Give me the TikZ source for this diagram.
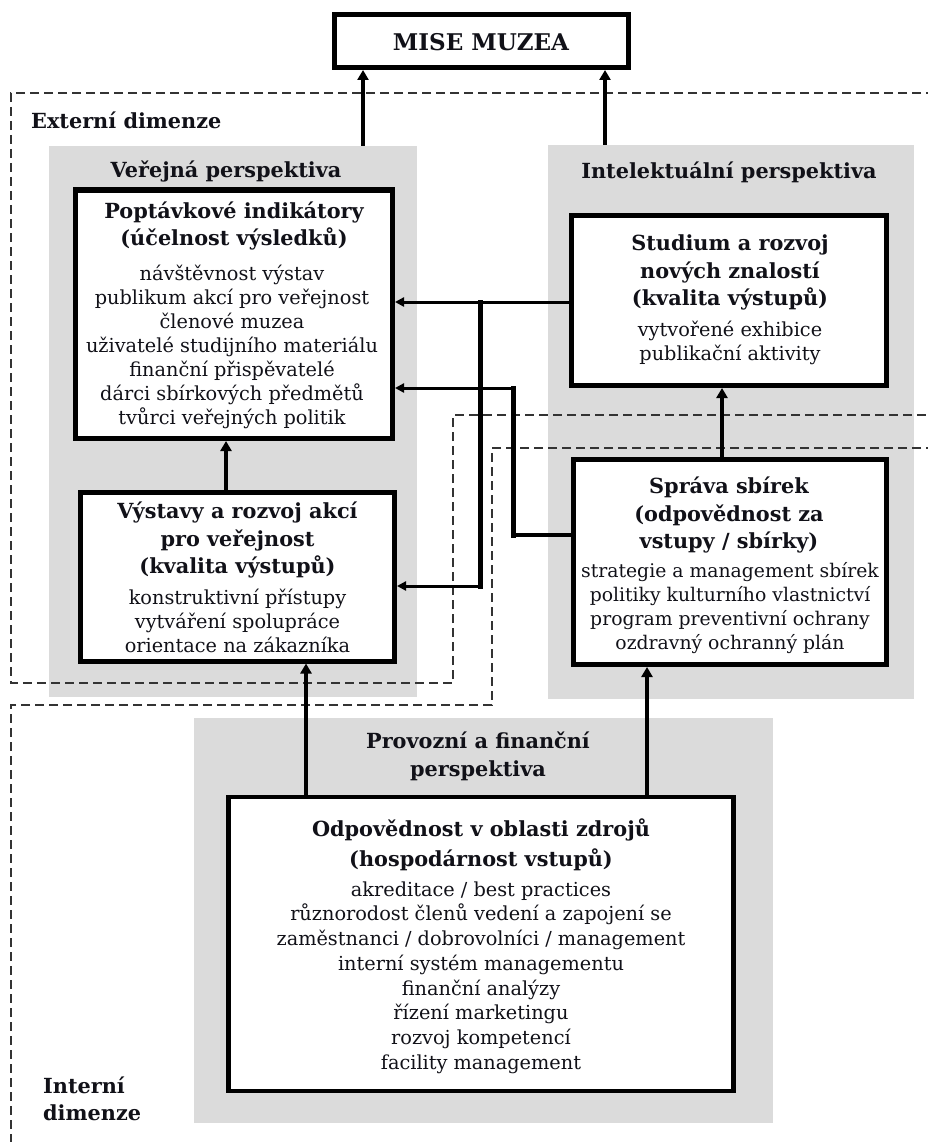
\documentclass[tikz,border=0pt]{standalone}
\usepackage{fontspec}
\setmainfont{DejaVu Serif}
\usetikzlibrary{arrows.meta,fit}
\definecolor{panel}{RGB}{219,219,219}
\definecolor{ink}{RGB}{17,17,24}
\begin{document}
\begin{tikzpicture}[x=1pt,y=-1pt,
  panelbox/.style={fill=panel, draw=none, inner sep=0pt},
  box/.style={draw=black, line width=5pt, fill=white, inner sep=0pt, rectangle},
  ttl/.style={font=\fontsize{20.8}{27.5}\selectfont\bfseries, align=center, inner sep=0pt, text=ink},
  body/.style={font=\fontsize{19.3}{24}\selectfont, align=center, inner sep=0pt, text=ink},
  lbl/.style={font=\fontsize{20.8}{27.5}\selectfont\bfseries, align=center, inner sep=0pt, text=ink},
  dashline/.style={draw=black!80, line width=1.4pt, dash pattern=on 9pt off 5pt},
  arr/.style={line width=3pt, -{Triangle[length=9pt,width=9pt]}},
  arrv/.style={line width=4.5pt, -{Triangle[length=10pt,width=11pt]}},
  seg/.style={line width=5pt, line cap=rect},
  hseg/.style={line width=3.5pt}
]
\path[use as bounding box] (0,0) rectangle (928,1142);
\clip (0,0) rectangle (928,1142);

% grey perspective panels
\node[panelbox, fit={(49,146) (417,697)}] (pubP) {};
\node[panelbox, fit={(548,145) (914,699)}] (intP) {};
\node[panelbox, fit={(194,718) (773,1123)}] (proP) {};

% dashed dimension frames
\draw[dashline] (935,93) -- (11,93) -- (11,683) -- (453,683) -- (453,415) -- (935,415);
\draw[dashline] (935,448) -- (492,448) -- (492,705) -- (11,705) -- (11,1150);

% boxes
\node[box, fit={(334,14.5) (628.5,67.5)}] (mise) {};
\node[box, fit={(75.5,190) (392.5,438.5)}] (pop) {};
\node[box, fit={(80.5,492) (394.5,661)}] (vys) {};
\node[box, fit={(571.5,215.5) (886,385.5)}] (stu) {};
\node[box, fit={(573.5,459.5) (886,664.5)}] (spr) {};
\node[box, line width=4.5pt, fit={(228.5,797) (733.5,1091)}] (odp) {};

% texts
\node[font=\fontsize{23}{28}\selectfont\bfseries, text=ink, inner sep=0pt] (miseT) at (481,42) {MISE MUZEA};
\node[lbl, anchor=west] (extL) at (31,120) {Externí dimenze};
\node[lbl] (pubL) at (226,171) {Veřejná perspektiva};
\node[lbl] (intL) at (729,172) {Intelektuální perspektiva};
\node[lbl, font=\fontsize{20.8}{28}\selectfont\bfseries] (proL) at (478,756) {Provozní a finanční\\perspektiva};
\node[lbl, anchor=west, align=left, font=\fontsize{20.8}{27}\selectfont\bfseries] (intD) at (43,1098.5) {Interní\\dimenze};

\node[ttl] (popT) at (234,226) {Poptávkové indikátory\\(účelnost výsledků)};
\node[body] (popB) at (232,346.5) {návštěvnost výstav\\publikum akcí pro veřejnost\\členové muzea\\uživatelé studijního materiálu\\finanční přispěvatelé\\dárci sbírkových předmětů\\tvůrci veřejných politik};

\node[ttl] (vysT) at (237.5,540) {Výstavy a rozvoj akcí\\pro veřejnost\\(kvalita výstupů)};
\node[body] (vysB) at (237.5,621) {konstruktivní přístupy\\vytváření spolupráce\\orientace na zákazníka};

\node[ttl] (stuT) at (730,272.5) {Studium a rozvoj\\nových znalostí\\(kvalita výstupů)};
\node[body] (stuB) at (730,342.5) {vytvořené exhibice\\publikační aktivity};

\node[ttl] (sprT) at (729,515) {Správa sbírek\\(odpovědnost za\\vstupy / sbírky)};
\node[body, font=\fontsize{18.8}{24}\selectfont] (sprB) at (730,608) {strategie a management sbírek\\politiky kulturního vlastnictví\\program preventivní ochrany\\ozdravný ochranný plán};

\node[ttl, font=\fontsize{20.8}{30}\selectfont\bfseries] (odpT) at (481,845) {Odpovědnost v oblasti zdrojů\\(hospodárnost vstupů)};
\node[body, font=\fontsize{19.3}{24.7}\selectfont] (odpB) at (481,977.5) {akreditace / best practices\\různorodost členů vedení a zapojení se\\zaměstnanci / dobrovolníci / management\\interní systém managementu\\finanční analýzy\\řízení marketingu\\rozvoj kompetencí\\facility management};

% connectors
\coordinate (m1) at (363,0);
\coordinate (m2) at (605,0);
\coordinate (c1) at (226,0);
\coordinate (c2) at (722,0);
\coordinate (c3) at (306,0);
\coordinate (c4) at (647,0);
\coordinate (j1) at (480,302);
\coordinate (j4) at (480,586);
\coordinate (j2) at (513,388);
\coordinate (j3) at (513,535);

\draw[arrv] (m1 |- pubP.north) -- (m1 |- mise.south);
\draw[arrv] (m2 |- intP.north) -- (m2 |- mise.south);
\draw[arrv] (c1 |- vys.north) -- (c1 |- pop.south);
\draw[arrv] (c2 |- spr.north) -- (c2 |- stu.south);
\draw[arrv] (c3 |- odp.north) -- (c3 |- vys.south);
\draw[arrv] (c4 |- odp.north) -- (c4 |- spr.south);

\draw[arr] (stu.west |- j1) -- (pop.east |- j1);
\draw[seg] (j1) -- (j4);
\draw[arr] (j4) -- (vys.east |- j4);

\draw[hseg] (spr.west |- j3) -- (j3);
\draw[seg] (j3) -- (j2);
\draw[arr] (j2) -- (pop.east |- j2);
\end{tikzpicture}
\end{document}
